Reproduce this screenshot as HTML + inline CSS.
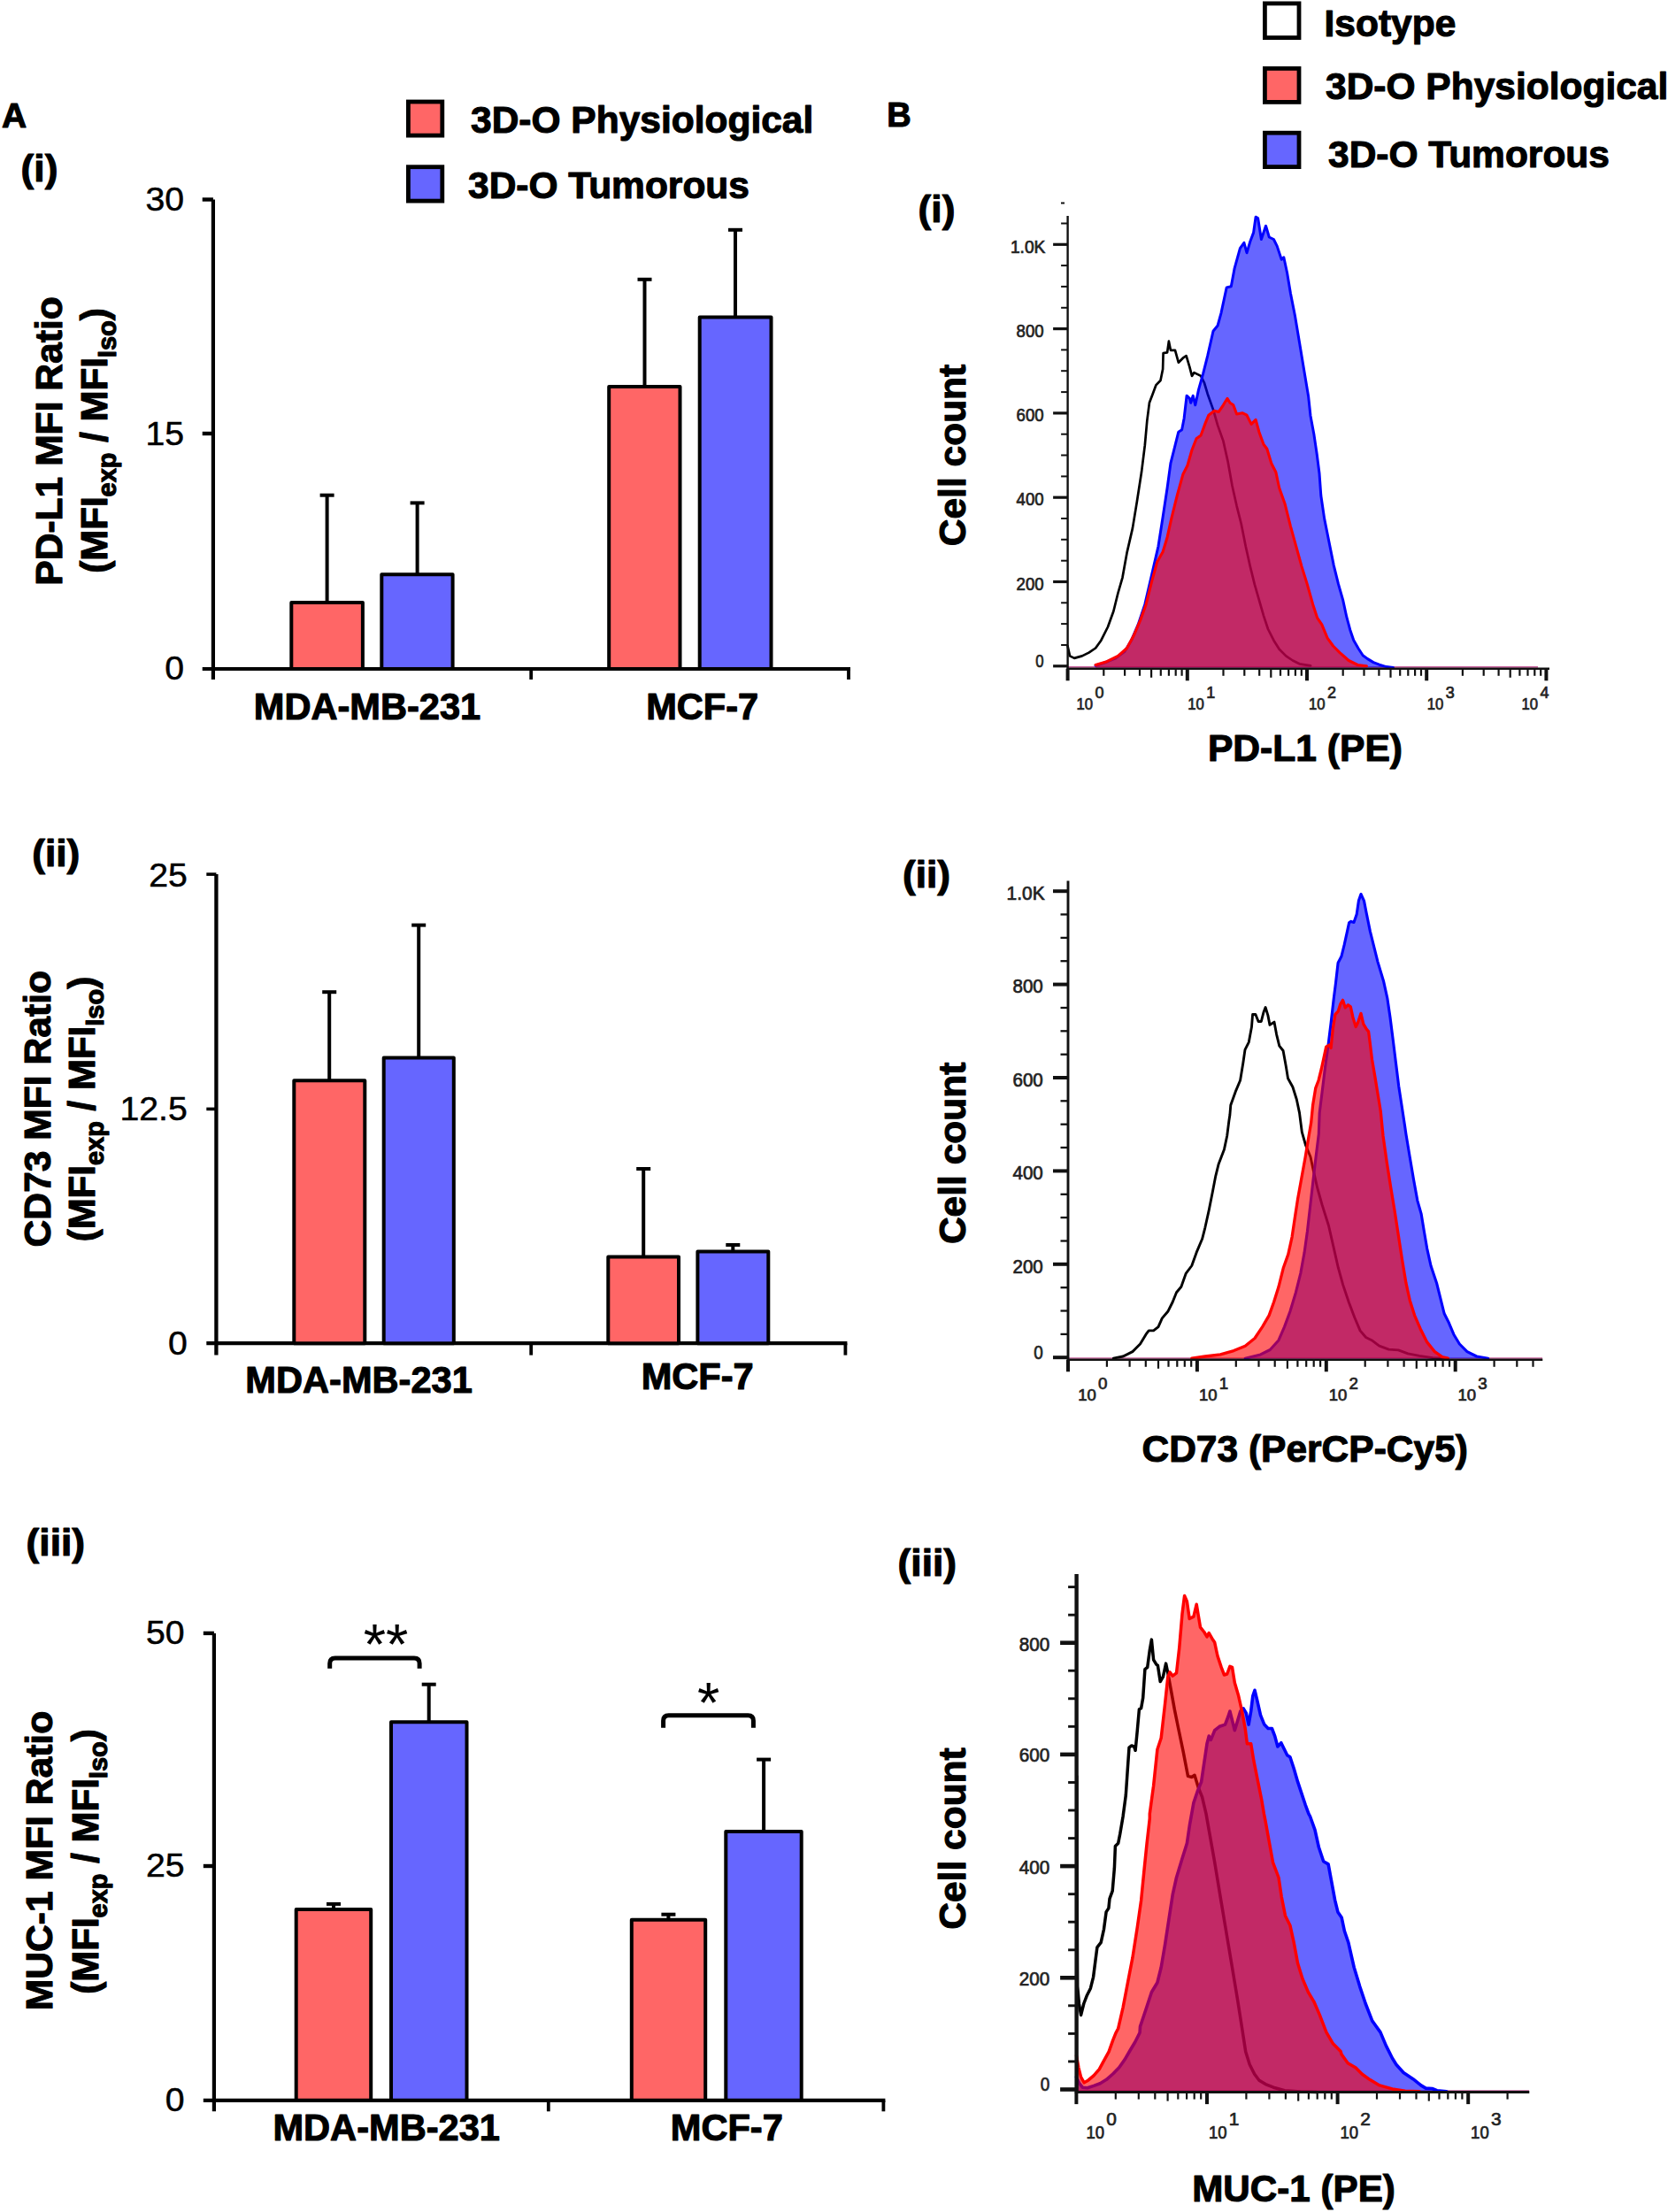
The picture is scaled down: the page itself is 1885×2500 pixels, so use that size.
<!DOCTYPE html>
<html lang="en"><head><meta charset="utf-8"><title>Figure</title>
<style>html,body{margin:0;padding:0;background:#fff}svg{display:block}text{font-family:'Liberation Sans', sans-serif}text[font-weight=bold]{stroke:#000;stroke-width:1.1px;stroke-linejoin:round}.tk{stroke:#000;stroke-width:.5px}</style>
</head><body>
<svg width="1885" height="2500" viewBox="0 0 1885 2500" role="img" aria-label="Figure: immune marker expression in 3D-O physiological versus tumorous cultures">
<rect width="1885" height="2500" fill="#fff"/>
<text x="2" y="144.4" font-size="39" font-weight="bold" text-anchor="start" fill="#000">A</text>
<text x="1002.3" y="142.8" font-size="38" font-weight="bold" text-anchor="start" fill="#000">B</text>
<text transform="translate(23.6 205) scale(1.04 1)" font-size="42.6" font-weight="bold">(i)</text>
<text transform="translate(36.2 978.5) scale(1.04 1)" font-size="42.6" font-weight="bold">(ii)</text>
<text transform="translate(29.6 1757.5) scale(1.04 1)" font-size="42.6" font-weight="bold">(iii)</text>
<text transform="translate(1037.6 251.1) scale(1.04 1)" font-size="42.6" font-weight="bold">(i)</text>
<text transform="translate(1020 1002.5) scale(1.04 1)" font-size="42.6" font-weight="bold">(ii)</text>
<text transform="translate(1014.6 1780.9) scale(1.04 1)" font-size="42.6" font-weight="bold">(iii)</text>
<rect x="461.4" y="115" width="38.4" height="38.1" fill="#FF6666" stroke="#000" stroke-width="4.8"/>
<rect x="461.4" y="188.7" width="38.4" height="38.4" fill="#6666FF" stroke="#000" stroke-width="4.8"/>
<text x="532" y="149.5" font-size="42.5" font-weight="bold" text-anchor="start" fill="#000">3D-O Physiological</text>
<text x="529" y="223.5" font-size="42.5" font-weight="bold" text-anchor="start" fill="#000">3D-O Tumorous</text>
<rect x="1429.4" y="3.9" width="38.6" height="38.7" fill="#fff" stroke="#000" stroke-width="4.8"/>
<rect x="1429.4" y="77.4" width="38.6" height="38" fill="#FF6666" stroke="#000" stroke-width="4.8"/>
<rect x="1429.4" y="150.2" width="38.6" height="38.4" fill="#6666FF" stroke="#000" stroke-width="4.8"/>
<text x="1496.5" y="41.4" font-size="42.5" font-weight="bold" text-anchor="start" fill="#000">Isotype</text>
<text x="1498" y="111.5" font-size="42.5" font-weight="bold" text-anchor="start" fill="#000">3D-O Physiological</text>
<text x="1501" y="189.4" font-size="42.5" font-weight="bold" text-anchor="start" fill="#000">3D-O Tumorous</text>
<line x1="240.9" y1="225.5" x2="240.9" y2="768" stroke="#000" stroke-width="4.2"/>
<line x1="228.7" y1="225.5" x2="240.9" y2="225.5" stroke="#000" stroke-width="4.4"/>
<line x1="228.7" y1="490" x2="240.9" y2="490" stroke="#000" stroke-width="4.4"/>
<line x1="228.7" y1="756" x2="961" y2="756" stroke="#000" stroke-width="4.2"/>
<line x1="600.2" y1="756" x2="600.2" y2="768" stroke="#000" stroke-width="3.8"/>
<line x1="959" y1="756" x2="959" y2="768" stroke="#000" stroke-width="3.8"/>
<text transform="translate(208 237.9) scale(1.06 1)" font-size="37" text-anchor="end" class="tk">30</text>
<text transform="translate(208 502.8) scale(1.06 1)" font-size="37" text-anchor="end" class="tk">15</text>
<text transform="translate(208 768.3) scale(1.06 1)" font-size="37" text-anchor="end" class="tk">0</text>
<rect x="329.3" y="681" width="80.6" height="75" fill="#FF6666" stroke="#000" stroke-width="4" stroke-linejoin="round"/>
<rect x="431.3" y="649.2" width="80.3" height="106.8" fill="#6666FF" stroke="#000" stroke-width="4" stroke-linejoin="round"/>
<rect x="688.2" y="437.1" width="80.3" height="318.9" fill="#FF6666" stroke="#000" stroke-width="4" stroke-linejoin="round"/>
<rect x="790.7" y="358.6" width="80.8" height="397.4" fill="#6666FF" stroke="#000" stroke-width="4" stroke-linejoin="round"/>
<line x1="369.6" y1="559.7" x2="369.6" y2="680" stroke="#000" stroke-width="4"/>
<line x1="361.6" y1="559.7" x2="377.6" y2="559.7" stroke="#000" stroke-width="4"/>
<line x1="471.6" y1="568.4" x2="471.6" y2="648.2" stroke="#000" stroke-width="4"/>
<line x1="463.6" y1="568.4" x2="479.6" y2="568.4" stroke="#000" stroke-width="4"/>
<line x1="728.5" y1="315.8" x2="728.5" y2="436.1" stroke="#000" stroke-width="4"/>
<line x1="720.5" y1="315.8" x2="736.5" y2="315.8" stroke="#000" stroke-width="4"/>
<line x1="831" y1="259.8" x2="831" y2="357.6" stroke="#000" stroke-width="4"/>
<line x1="823" y1="259.8" x2="839" y2="259.8" stroke="#000" stroke-width="4"/>
<text x="415" y="812.7" font-size="41.6" font-weight="bold" text-anchor="middle" fill="#000">MDA-MB-231</text>
<text x="793.7" y="812.7" font-size="41.6" font-weight="bold" text-anchor="middle" fill="#000">MCF-7</text>
<text transform="translate(69.5 498.5) rotate(-90)" font-size="42.6" font-weight="bold" text-anchor="middle">PD-L1 MFI Ratio</text>
<text transform="translate(120.5 498) rotate(-90)" font-size="42" font-weight="bold" text-anchor="middle">(MFI<tspan font-size="29" dy="10">exp</tspan><tspan dy="-10"> / MFI</tspan><tspan font-size="29" dy="10">Iso</tspan><tspan dy="-10">)</tspan></text>
<line x1="244.4" y1="988.1" x2="244.4" y2="1531.6" stroke="#000" stroke-width="4.3"/>
<line x1="233.3" y1="988.1" x2="244.4" y2="988.1" stroke="#000" stroke-width="3.6"/>
<line x1="233.3" y1="1253.4" x2="244.4" y2="1253.4" stroke="#000" stroke-width="3.6"/>
<line x1="233.3" y1="1518.2" x2="957.4" y2="1518.2" stroke="#000" stroke-width="4.3"/>
<line x1="600.2" y1="1518.2" x2="600.2" y2="1531.6" stroke="#000" stroke-width="3.8"/>
<line x1="955.4" y1="1518.2" x2="955.4" y2="1531.6" stroke="#000" stroke-width="3.8"/>
<text transform="translate(211.8 1001.6) scale(1.06 1)" font-size="37" text-anchor="end" class="tk">25</text>
<text transform="translate(211.8 1266) scale(1.06 1)" font-size="37" text-anchor="end" class="tk">12.5</text>
<text transform="translate(211.8 1530.8) scale(1.06 1)" font-size="37" text-anchor="end" class="tk">0</text>
<rect x="332.3" y="1221.2" width="80" height="297" fill="#FF6666" stroke="#000" stroke-width="4" stroke-linejoin="round"/>
<rect x="433.7" y="1195.4" width="79.1" height="322.8" fill="#6666FF" stroke="#000" stroke-width="4" stroke-linejoin="round"/>
<rect x="687.3" y="1420.5" width="79.7" height="97.7" fill="#FF6666" stroke="#000" stroke-width="4" stroke-linejoin="round"/>
<rect x="788.4" y="1414.5" width="79.9" height="103.7" fill="#6666FF" stroke="#000" stroke-width="4" stroke-linejoin="round"/>
<line x1="372.2" y1="1121.2" x2="372.2" y2="1220.2" stroke="#000" stroke-width="4"/>
<line x1="364.2" y1="1121.2" x2="380.2" y2="1121.2" stroke="#000" stroke-width="4"/>
<line x1="473.2" y1="1045.6" x2="473.2" y2="1194.4" stroke="#000" stroke-width="4"/>
<line x1="465.2" y1="1045.6" x2="481.2" y2="1045.6" stroke="#000" stroke-width="4"/>
<line x1="727.2" y1="1321" x2="727.2" y2="1419.5" stroke="#000" stroke-width="4"/>
<line x1="719.2" y1="1321" x2="735.2" y2="1321" stroke="#000" stroke-width="4"/>
<line x1="828.3" y1="1407" x2="828.3" y2="1413.5" stroke="#000" stroke-width="4"/>
<line x1="820.3" y1="1407" x2="836.3" y2="1407" stroke="#000" stroke-width="4"/>
<text x="405.6" y="1573.5" font-size="41.6" font-weight="bold" text-anchor="middle" fill="#000">MDA-MB-231</text>
<text x="788.2" y="1570.1" font-size="41.6" font-weight="bold" text-anchor="middle" fill="#000">MCF-7</text>
<text transform="translate(57 1253.2) rotate(-90)" font-size="42.6" font-weight="bold" text-anchor="middle">CD73 MFI Ratio</text>
<text transform="translate(107 1253.6) rotate(-90)" font-size="42" font-weight="bold" text-anchor="middle">(MFI<tspan font-size="29" dy="10">exp</tspan><tspan dy="-10"> / MFI</tspan><tspan font-size="29" dy="10">Iso</tspan><tspan dy="-10">)</tspan></text>
<line x1="241.9" y1="1845.9" x2="241.9" y2="2386.3" stroke="#000" stroke-width="4.2"/>
<line x1="229.8" y1="1845.9" x2="241.9" y2="1845.9" stroke="#000" stroke-width="4.4"/>
<line x1="229.8" y1="2109" x2="241.9" y2="2109" stroke="#000" stroke-width="4.4"/>
<line x1="229.8" y1="2373.8" x2="1000.4" y2="2373.8" stroke="#000" stroke-width="4.2"/>
<line x1="619.8" y1="2373.8" x2="619.8" y2="2386.3" stroke="#000" stroke-width="3.8"/>
<line x1="998.4" y1="2373.8" x2="998.4" y2="2386.3" stroke="#000" stroke-width="3.8"/>
<text transform="translate(208.5 1857.9) scale(1.06 1)" font-size="37" text-anchor="end" class="tk">50</text>
<text transform="translate(208.5 2121.2) scale(1.06 1)" font-size="37" text-anchor="end" class="tk">25</text>
<text transform="translate(208.5 2386.3) scale(1.06 1)" font-size="37" text-anchor="end" class="tk">0</text>
<rect x="334.7" y="2158" width="84.5" height="215.8" fill="#FF6666" stroke="#000" stroke-width="4" stroke-linejoin="round"/>
<rect x="442" y="1946.3" width="85.5" height="427.5" fill="#6666FF" stroke="#000" stroke-width="4" stroke-linejoin="round"/>
<rect x="713.8" y="2169.7" width="83.4" height="204.1" fill="#FF6666" stroke="#000" stroke-width="4" stroke-linejoin="round"/>
<rect x="820.3" y="2070.1" width="85.4" height="303.7" fill="#6666FF" stroke="#000" stroke-width="4" stroke-linejoin="round"/>
<line x1="377" y1="2151.9" x2="377" y2="2157" stroke="#000" stroke-width="4"/>
<line x1="369" y1="2151.9" x2="385" y2="2151.9" stroke="#000" stroke-width="4"/>
<line x1="484.7" y1="1903.7" x2="484.7" y2="1945.3" stroke="#000" stroke-width="4"/>
<line x1="476.7" y1="1903.7" x2="492.7" y2="1903.7" stroke="#000" stroke-width="4"/>
<line x1="755.4" y1="2163.7" x2="755.4" y2="2168.7" stroke="#000" stroke-width="4"/>
<line x1="747.4" y1="2163.7" x2="763.4" y2="2163.7" stroke="#000" stroke-width="4"/>
<line x1="863.1" y1="1988.6" x2="863.1" y2="2069.1" stroke="#000" stroke-width="4"/>
<line x1="855.1" y1="1988.6" x2="871.1" y2="1988.6" stroke="#000" stroke-width="4"/>
<text x="436.7" y="2419" font-size="41.6" font-weight="bold" text-anchor="middle" fill="#000">MDA-MB-231</text>
<text x="821.3" y="2418.5" font-size="41.6" font-weight="bold" text-anchor="middle" fill="#000">MCF-7</text>
<text transform="translate(59 2103) rotate(-90)" font-size="42.6" font-weight="bold" text-anchor="middle">MUC-1 MFI Ratio</text>
<text transform="translate(110.9 2104) rotate(-90)" font-size="42" font-weight="bold" text-anchor="middle">(MFI<tspan font-size="29" dy="10">exp</tspan><tspan dy="-10"> / MFI</tspan><tspan font-size="29" dy="10">Iso</tspan><tspan dy="-10">)</tspan></text>
<path d="M372.7 1885.8 V1879.9 Q372.7 1873.9 378.7 1873.9 H468.1 Q474.1 1873.9 474.1 1879.9 V1885.8" fill="none" stroke="#000" stroke-width="5"/>
<path d="M749.6 1952.7 V1944.8 Q749.6 1938.8 755.6 1938.8 H845.4 Q851.4 1938.8 851.4 1944.8 V1952.7" fill="none" stroke="#000" stroke-width="5"/>
<text x="436" y="1880.5" font-size="65" text-anchor="middle" fill="#000">**</text>
<text x="800.7" y="1946.5" font-size="65" text-anchor="middle" fill="#000">*</text>
<line x1="1207" y1="753.9" x2="1738" y2="753.9" stroke="#C8609C" stroke-width="1.6"/>
<polyline points="1206.5,730 1209,741.4 1214.1,743.9 1222.9,741.4 1230.5,737.6 1238.1,732.5 1244.4,723.7 1252,708.5 1258.4,690.8 1263.4,670.5 1268.5,652.8 1273.5,624.9 1279.9,597.1 1284.9,566.7 1290,533.8 1293.8,503.4 1296.3,475.6 1298.9,455.3 1302.7,445.2 1306.5,435.1 1311.5,430 1314.1,417.3 1314.6,399.1 1319.1,398.4 1320.9,385.7 1322.9,395.8 1328,395.8 1331.8,409.7 1336.8,404.7 1340.6,402.2 1344.4,414.8 1347,424.9 1349.5,421.1 1357.1,424.9 1360.9,432.5 1364.7,445.2 1371,462.9 1376.1,480.6 1382.4,498.4 1387.5,521.1 1392.5,549 1397.6,571.8 1402.7,592 1407.7,617.3 1412.8,640.1 1417.8,660.4 1422.9,678.1 1428,695.8 1433,711 1439.4,723.7 1445.7,733.8 1453.3,741.4 1460.9,746.5 1468.5,750.3 1481.1,752.3" fill="none" stroke="#000" stroke-width="2.7" stroke-linejoin="round" stroke-linecap="round" opacity="1"/>
<polygon points="1238.1,754.5 1238.1,752.3 1248.2,749 1260.9,743.9 1271,736.3 1278.6,723.7 1286.2,705.9 1293.8,683.2 1301.4,650.3 1309,617.3 1314.1,584.4 1319.1,551.5 1322.9,523.7 1328,503.4 1331.8,488.2 1335.6,485.7 1338.1,473 1341.1,447.2 1344.4,450.3 1345.7,455.3 1348.2,447.2 1350.8,457.8 1354.6,440.1 1359.6,422.4 1364.7,402.2 1371,374.3 1376.1,368 1379.9,354.1 1386.2,324.9 1391.3,323.7 1395.1,303.4 1401.4,280.6 1405.9,274.3 1409,285.7 1412.8,273 1416.6,262.9 1419.1,245.2 1421.6,246.5 1425.4,270.5 1430.5,255.3 1434.3,268 1439.4,270.5 1443.2,278.1 1448.2,293.3 1450.8,290.8 1454.6,308.5 1458.4,331.3 1463.4,356.6 1468.5,387 1473.5,417.3 1478.6,447.7 1481,470 1485,491.6 1488.2,513.2 1491,535 1492.8,560 1496.7,586.4 1502,612.8 1507.3,639.1 1512.5,660.2 1517.8,678.7 1521.8,697.2 1525.7,711.7 1529.7,723.5 1535,732.8 1540.2,740.7 1545.5,744.6 1552.1,748.6 1558.7,751.2 1566.6,753.6 1574.5,754.5 1574.5,754.5" fill="rgba(0,0,255,0.6)" stroke="none"/>
<polyline points="1238.1,752.3 1248.2,749 1260.9,743.9 1271,736.3 1278.6,723.7 1286.2,705.9 1293.8,683.2 1301.4,650.3 1309,617.3 1314.1,584.4 1319.1,551.5 1322.9,523.7 1328,503.4 1331.8,488.2 1335.6,485.7 1338.1,473 1341.1,447.2 1344.4,450.3 1345.7,455.3 1348.2,447.2 1350.8,457.8 1354.6,440.1 1359.6,422.4 1364.7,402.2 1371,374.3 1376.1,368 1379.9,354.1 1386.2,324.9 1391.3,323.7 1395.1,303.4 1401.4,280.6 1405.9,274.3 1409,285.7 1412.8,273 1416.6,262.9 1419.1,245.2 1421.6,246.5 1425.4,270.5 1430.5,255.3 1434.3,268 1439.4,270.5 1443.2,278.1 1448.2,293.3 1450.8,290.8 1454.6,308.5 1458.4,331.3 1463.4,356.6 1468.5,387 1473.5,417.3 1478.6,447.7 1481,470 1485,491.6 1488.2,513.2 1491,535 1492.8,560 1496.7,586.4 1502,612.8 1507.3,639.1 1512.5,660.2 1517.8,678.7 1521.8,697.2 1525.7,711.7 1529.7,723.5 1535,732.8 1540.2,740.7 1545.5,744.6 1552.1,748.6 1558.7,751.2 1566.6,753.6 1574.5,754.5" fill="none" stroke="#0000FF" stroke-width="3" stroke-linejoin="round" stroke-linecap="round"/>
<polygon points="1238.1,754.5 1238.1,751.5 1250.8,747.7 1263.4,741.4 1273.5,732.5 1281.1,718.6 1288.7,700.9 1295.1,683.2 1301.4,657.8 1307.7,635.1 1314.1,623.7 1319.1,607.2 1324.2,584.4 1330.5,559.1 1336.8,536.3 1341.9,526.2 1347,508.5 1352,495.8 1357.1,492 1362.2,478.1 1365.9,469.2 1372.3,464.2 1377.3,465.4 1382.4,457.8 1387,450.3 1390,455.3 1393.8,457.8 1397.6,468 1403.9,466.7 1409,469.2 1414.1,479.4 1419.1,474.3 1422.9,488.2 1428,502.2 1431.8,507.2 1436.8,523.7 1441.9,533.8 1445.7,551.5 1452,569.2 1458.4,594.6 1464.7,617.3 1471,640.1 1477.3,660.4 1483.7,683.2 1488.7,698.4 1493.8,705.9 1500.1,721.1 1506.5,730 1514.1,737.6 1524.2,746.5 1534.3,751.5 1544.4,752.8 1544.4,754.5" fill="rgba(255,0,0,0.6)" stroke="none"/>
<polyline points="1238.1,751.5 1250.8,747.7 1263.4,741.4 1273.5,732.5 1281.1,718.6 1288.7,700.9 1295.1,683.2 1301.4,657.8 1307.7,635.1 1314.1,623.7 1319.1,607.2 1324.2,584.4 1330.5,559.1 1336.8,536.3 1341.9,526.2 1347,508.5 1352,495.8 1357.1,492 1362.2,478.1 1365.9,469.2 1372.3,464.2 1377.3,465.4 1382.4,457.8 1387,450.3 1390,455.3 1393.8,457.8 1397.6,468 1403.9,466.7 1409,469.2 1414.1,479.4 1419.1,474.3 1422.9,488.2 1428,502.2 1431.8,507.2 1436.8,523.7 1441.9,533.8 1445.7,551.5 1452,569.2 1458.4,594.6 1464.7,617.3 1471,640.1 1477.3,660.4 1483.7,683.2 1488.7,698.4 1493.8,705.9 1500.1,721.1 1506.5,730 1514.1,737.6 1524.2,746.5 1534.3,751.5 1544.4,752.8" fill="none" stroke="#FF0000" stroke-width="3.1" stroke-linejoin="round" stroke-linecap="round"/>
<line x1="1206.6" y1="243.9" x2="1206.6" y2="756.8" stroke="#111" stroke-width="2.4"/>
<line x1="1190.1" y1="752.8" x2="1206.6" y2="752.8" stroke="#111" stroke-width="3.2"/>
<line x1="1190.1" y1="657.5" x2="1206.6" y2="657.5" stroke="#111" stroke-width="3.2"/>
<line x1="1190.1" y1="562.2" x2="1206.6" y2="562.2" stroke="#111" stroke-width="3.2"/>
<line x1="1190.1" y1="466.9" x2="1206.6" y2="466.9" stroke="#111" stroke-width="3.2"/>
<line x1="1190.1" y1="371.6" x2="1206.6" y2="371.6" stroke="#111" stroke-width="3.2"/>
<line x1="1190.1" y1="276.3" x2="1206.6" y2="276.3" stroke="#111" stroke-width="3.2"/>
<line x1="1199.1" y1="729" x2="1206.6" y2="729" stroke="#111" stroke-width="2"/>
<line x1="1199.1" y1="705.1" x2="1206.6" y2="705.1" stroke="#111" stroke-width="2"/>
<line x1="1199.1" y1="681.3" x2="1206.6" y2="681.3" stroke="#111" stroke-width="2"/>
<line x1="1199.1" y1="633.7" x2="1206.6" y2="633.7" stroke="#111" stroke-width="2"/>
<line x1="1199.1" y1="609.8" x2="1206.6" y2="609.8" stroke="#111" stroke-width="2"/>
<line x1="1199.1" y1="586" x2="1206.6" y2="586" stroke="#111" stroke-width="2"/>
<line x1="1199.1" y1="538.4" x2="1206.6" y2="538.4" stroke="#111" stroke-width="2"/>
<line x1="1199.1" y1="514.5" x2="1206.6" y2="514.5" stroke="#111" stroke-width="2"/>
<line x1="1199.1" y1="490.7" x2="1206.6" y2="490.7" stroke="#111" stroke-width="2"/>
<line x1="1199.1" y1="443.1" x2="1206.6" y2="443.1" stroke="#111" stroke-width="2"/>
<line x1="1199.1" y1="419.2" x2="1206.6" y2="419.2" stroke="#111" stroke-width="2"/>
<line x1="1199.1" y1="395.4" x2="1206.6" y2="395.4" stroke="#111" stroke-width="2"/>
<line x1="1199.1" y1="347.8" x2="1206.6" y2="347.8" stroke="#111" stroke-width="2"/>
<line x1="1199.1" y1="323.9" x2="1206.6" y2="323.9" stroke="#111" stroke-width="2"/>
<line x1="1199.1" y1="300.1" x2="1206.6" y2="300.1" stroke="#111" stroke-width="2"/>
<line x1="1199.1" y1="252.5" x2="1206.6" y2="252.5" stroke="#111" stroke-width="2"/>
<line x1="1205.6" y1="755.8" x2="1751" y2="755.8" stroke="#111" stroke-width="2.6"/>
<line x1="1206.6" y1="755.8" x2="1206.6" y2="769.3" stroke="#111" stroke-width="4"/>
<line x1="1247.3" y1="755.8" x2="1247.3" y2="763.8" stroke="#111" stroke-width="2.2"/>
<line x1="1271.1" y1="755.8" x2="1271.1" y2="763.8" stroke="#111" stroke-width="2.2"/>
<line x1="1288" y1="755.8" x2="1288" y2="763.8" stroke="#111" stroke-width="2.2"/>
<line x1="1301.1" y1="755.8" x2="1301.1" y2="765.8" stroke="#111" stroke-width="2.2"/>
<line x1="1311.8" y1="755.8" x2="1311.8" y2="763.8" stroke="#111" stroke-width="2.2"/>
<line x1="1320.9" y1="755.8" x2="1320.9" y2="763.8" stroke="#111" stroke-width="2.2"/>
<line x1="1328.7" y1="755.8" x2="1328.7" y2="763.8" stroke="#111" stroke-width="2.2"/>
<line x1="1335.6" y1="755.8" x2="1335.6" y2="763.8" stroke="#111" stroke-width="2.2"/>
<line x1="1341.8" y1="755.8" x2="1341.8" y2="769.3" stroke="#111" stroke-width="4"/>
<line x1="1382.5" y1="755.8" x2="1382.5" y2="763.8" stroke="#111" stroke-width="2.2"/>
<line x1="1406.3" y1="755.8" x2="1406.3" y2="763.8" stroke="#111" stroke-width="2.2"/>
<line x1="1423.2" y1="755.8" x2="1423.2" y2="763.8" stroke="#111" stroke-width="2.2"/>
<line x1="1436.3" y1="755.8" x2="1436.3" y2="765.8" stroke="#111" stroke-width="2.2"/>
<line x1="1447" y1="755.8" x2="1447" y2="763.8" stroke="#111" stroke-width="2.2"/>
<line x1="1456.1" y1="755.8" x2="1456.1" y2="763.8" stroke="#111" stroke-width="2.2"/>
<line x1="1463.9" y1="755.8" x2="1463.9" y2="763.8" stroke="#111" stroke-width="2.2"/>
<line x1="1470.8" y1="755.8" x2="1470.8" y2="763.8" stroke="#111" stroke-width="2.2"/>
<line x1="1477" y1="755.8" x2="1477" y2="769.3" stroke="#111" stroke-width="4"/>
<line x1="1517.7" y1="755.8" x2="1517.7" y2="763.8" stroke="#111" stroke-width="2.2"/>
<line x1="1541.5" y1="755.8" x2="1541.5" y2="763.8" stroke="#111" stroke-width="2.2"/>
<line x1="1558.4" y1="755.8" x2="1558.4" y2="763.8" stroke="#111" stroke-width="2.2"/>
<line x1="1571.5" y1="755.8" x2="1571.5" y2="765.8" stroke="#111" stroke-width="2.2"/>
<line x1="1582.2" y1="755.8" x2="1582.2" y2="763.8" stroke="#111" stroke-width="2.2"/>
<line x1="1591.3" y1="755.8" x2="1591.3" y2="763.8" stroke="#111" stroke-width="2.2"/>
<line x1="1599.1" y1="755.8" x2="1599.1" y2="763.8" stroke="#111" stroke-width="2.2"/>
<line x1="1606" y1="755.8" x2="1606" y2="763.8" stroke="#111" stroke-width="2.2"/>
<line x1="1612.2" y1="755.8" x2="1612.2" y2="769.3" stroke="#111" stroke-width="4"/>
<line x1="1652.9" y1="755.8" x2="1652.9" y2="763.8" stroke="#111" stroke-width="2.2"/>
<line x1="1676.7" y1="755.8" x2="1676.7" y2="763.8" stroke="#111" stroke-width="2.2"/>
<line x1="1693.6" y1="755.8" x2="1693.6" y2="763.8" stroke="#111" stroke-width="2.2"/>
<line x1="1706.7" y1="755.8" x2="1706.7" y2="765.8" stroke="#111" stroke-width="2.2"/>
<line x1="1717.4" y1="755.8" x2="1717.4" y2="763.8" stroke="#111" stroke-width="2.2"/>
<line x1="1726.5" y1="755.8" x2="1726.5" y2="763.8" stroke="#111" stroke-width="2.2"/>
<line x1="1734.3" y1="755.8" x2="1734.3" y2="763.8" stroke="#111" stroke-width="2.2"/>
<line x1="1741.2" y1="755.8" x2="1741.2" y2="763.8" stroke="#111" stroke-width="2.2"/>
<line x1="1747.4" y1="755.8" x2="1747.4" y2="769.3" stroke="#111" stroke-width="4"/>
<text x="1181.4" y="285.6" font-size="20" text-anchor="end" fill="#222" stroke="#222" stroke-width="0.7" textLength="39.5" lengthAdjust="spacingAndGlyphs">1.0K</text>
<text x="1179.6" y="380.5" font-size="20" text-anchor="end" fill="#222" stroke="#222" stroke-width="0.7" textLength="31" lengthAdjust="spacingAndGlyphs">800</text>
<text x="1179.6" y="475.9" font-size="20" text-anchor="end" fill="#222" stroke="#222" stroke-width="0.7" textLength="31" lengthAdjust="spacingAndGlyphs">600</text>
<text x="1179.6" y="571" font-size="20" text-anchor="end" fill="#222" stroke="#222" stroke-width="0.7" textLength="31" lengthAdjust="spacingAndGlyphs">400</text>
<text x="1179.6" y="667" font-size="20" text-anchor="end" fill="#222" stroke="#222" stroke-width="0.7" textLength="31" lengthAdjust="spacingAndGlyphs">200</text>
<text x="1179.6" y="754.1" font-size="20" text-anchor="end" fill="#222" stroke="#222" stroke-width="0.7" textLength="9.3" lengthAdjust="spacingAndGlyphs">0</text>
<text x="1216.4" y="801.6" font-size="17.5" fill="#222" stroke="#222" stroke-width="0.7" textLength="18.6" lengthAdjust="spacingAndGlyphs">10</text>
<text x="1237.4" y="789.2" font-size="18" fill="#222" stroke="#222" stroke-width="0.7">0</text>
<text x="1342.3" y="801.6" font-size="17.5" fill="#222" stroke="#222" stroke-width="0.7" textLength="18.6" lengthAdjust="spacingAndGlyphs">10</text>
<text x="1363.3" y="789.2" font-size="18" fill="#222" stroke="#222" stroke-width="0.7">1</text>
<text x="1478.9" y="801.6" font-size="17.5" fill="#222" stroke="#222" stroke-width="0.7" textLength="18.6" lengthAdjust="spacingAndGlyphs">10</text>
<text x="1499.9" y="789.2" font-size="18" fill="#222" stroke="#222" stroke-width="0.7">2</text>
<text x="1612.7" y="801.6" font-size="17.5" fill="#222" stroke="#222" stroke-width="0.7" textLength="18.6" lengthAdjust="spacingAndGlyphs">10</text>
<text x="1633.7" y="789.2" font-size="18" fill="#222" stroke="#222" stroke-width="0.7">3</text>
<text x="1719.4" y="801.6" font-size="17.5" fill="#222" stroke="#222" stroke-width="0.7" textLength="18.6" lengthAdjust="spacingAndGlyphs">10</text>
<text x="1740.4" y="789.2" font-size="18" fill="#222" stroke="#222" stroke-width="0.7">4</text>
<line x1="1199" y1="229.5" x2="1203" y2="229.5" stroke="#111" stroke-width="2"/>
<text transform="translate(1090.8 514.5) rotate(-90)" font-size="42.5" font-weight="bold" text-anchor="middle">Cell count</text>
<text x="1475" y="859.6" font-size="42.6" font-weight="bold" text-anchor="middle" fill="#000">PD-L1 (PE)</text>
<line x1="1207" y1="1535" x2="1743" y2="1535" stroke="#C8609C" stroke-width="1.6"/>
<polyline points="1258.3,1535.2 1269.1,1533 1279.9,1527.6 1288.5,1519 1295,1508.2 1298.2,1503.9 1303.6,1503.9 1309,1499.6 1313.3,1489.9 1319.8,1482.3 1325.2,1471.5 1329.5,1460.7 1334.9,1454.3 1340.3,1439.1 1346.8,1430.5 1352.2,1415.4 1358.6,1400.3 1361.9,1387.3 1366.2,1367.9 1370.5,1346.3 1373.8,1329.1 1377,1316.1 1383.5,1298.9 1386.7,1283.7 1388.9,1266.5 1389.9,1260 1390.8,1249 1396.2,1233.9 1401.6,1221 1404.8,1201.5 1407,1186.4 1411.3,1177.8 1414.5,1160.5 1415.6,1146.5 1418.9,1146.5 1422.1,1154.5 1425.3,1154.5 1427.9,1144.3 1430.1,1138.5 1432.9,1147.6 1435,1158.4 1438.3,1156.2 1440,1155.1 1442.6,1169.1 1445.8,1182.1 1450.1,1187.5 1453.4,1205.8 1455.5,1218.8 1460.9,1228.5 1465.3,1242.5 1468.5,1257.6 1471.3,1279.4 1475.6,1294.5 1481,1307.5 1484.2,1322.6 1488.6,1342 1494,1361.4 1501.5,1385.2 1506.9,1408.9 1512.3,1432.7 1517.7,1452.1 1524.2,1471.5 1530.7,1488.8 1537.1,1503.9 1543.6,1511.5 1550.1,1514.7 1558.7,1521.2 1569.5,1525.1 1580.3,1525.9 1591.1,1529.8 1604,1532.4 1619.1,1534.6 1634.3,1535.2" fill="none" stroke="#000" stroke-width="2.9" stroke-linejoin="round" stroke-linecap="round" opacity="1"/>
<polygon points="1407.2,1535.6 1407.2,1535.2 1424.5,1530.9 1435.3,1525.5 1445,1514.7 1451.5,1499.6 1457.9,1482.3 1464.4,1460.7 1469.8,1439.1 1474.1,1415.4 1477.4,1391.7 1480.6,1363.6 1483.8,1335.5 1487.1,1307.5 1490.3,1281.6 1491.2,1257.6 1494.4,1231.7 1497.6,1205.8 1500.9,1182.1 1504.1,1156.2 1507.3,1128.1 1509.5,1110.9 1512.1,1088.2 1516,1080.7 1519.2,1067.7 1522.5,1052.6 1524.6,1042.9 1526.8,1041.4 1530,1042.4 1533.2,1033.2 1535.4,1018.1 1538,1010.5 1541.5,1018.1 1544,1031 1548.4,1052.6 1552.7,1069.9 1557,1087.1 1563.5,1108.7 1567.8,1128.1 1571,1149.7 1574.3,1175.6 1577.5,1201.5 1580.7,1227.4 1584,1249 1587.2,1269.9 1588.9,1281.6 1593.2,1307.5 1597.6,1333.4 1601.9,1357.1 1606.2,1372.2 1609.4,1391.7 1612.7,1411.1 1617,1430.5 1623.5,1449.9 1627.8,1467.2 1632.1,1484.5 1637.5,1495.3 1642.9,1508.2 1649.4,1519 1658,1527.6 1668.8,1533 1681.7,1535.2 1681.7,1535.6" fill="rgba(0,0,255,0.6)" stroke="none"/>
<polyline points="1407.2,1535.2 1424.5,1530.9 1435.3,1525.5 1445,1514.7 1451.5,1499.6 1457.9,1482.3 1464.4,1460.7 1469.8,1439.1 1474.1,1415.4 1477.4,1391.7 1480.6,1363.6 1483.8,1335.5 1487.1,1307.5 1490.3,1281.6 1491.2,1257.6 1494.4,1231.7 1497.6,1205.8 1500.9,1182.1 1504.1,1156.2 1507.3,1128.1 1509.5,1110.9 1512.1,1088.2 1516,1080.7 1519.2,1067.7 1522.5,1052.6 1524.6,1042.9 1526.8,1041.4 1530,1042.4 1533.2,1033.2 1535.4,1018.1 1538,1010.5 1541.5,1018.1 1544,1031 1548.4,1052.6 1552.7,1069.9 1557,1087.1 1563.5,1108.7 1567.8,1128.1 1571,1149.7 1574.3,1175.6 1577.5,1201.5 1580.7,1227.4 1584,1249 1587.2,1269.9 1588.9,1281.6 1593.2,1307.5 1597.6,1333.4 1601.9,1357.1 1606.2,1372.2 1609.4,1391.7 1612.7,1411.1 1617,1430.5 1623.5,1449.9 1627.8,1467.2 1632.1,1484.5 1637.5,1495.3 1642.9,1508.2 1649.4,1519 1658,1527.6 1668.8,1533 1681.7,1535.2" fill="none" stroke="#0000FF" stroke-width="3.1" stroke-linejoin="round" stroke-linecap="round"/>
<polygon points="1346.8,1535.6 1346.8,1535.2 1361.9,1533 1379.1,1530.9 1394.3,1526.6 1407.2,1521.2 1418,1512.5 1426.6,1499.6 1434.2,1486.6 1439.6,1471.5 1445,1454.3 1450.4,1432.7 1455.8,1417.6 1460.1,1398.1 1463.3,1376.6 1466.6,1355 1470.9,1331.2 1475.2,1307.5 1478.4,1288.1 1481.7,1268.6 1483.6,1249 1486.8,1229.6 1490.1,1221 1493.3,1208 1496.6,1192.9 1498.7,1183.2 1502,1181 1504.1,1184.3 1506.3,1162.7 1508.9,1146.5 1512.1,1143.2 1514.9,1134.6 1517.5,1130.3 1520.3,1138.9 1523.5,1135.7 1526.3,1137.9 1528.9,1149.7 1532.2,1160.5 1534.3,1156.2 1538,1145.4 1540.8,1157.3 1544,1162.7 1546.6,1165.9 1548.4,1179.9 1550.5,1197.2 1553.8,1216.6 1557,1236.1 1560.2,1255.5 1563,1283.7 1567.3,1314 1571.7,1342 1576,1367.9 1580.3,1396 1584.6,1424 1588.9,1449.9 1593.2,1469.4 1598.6,1486.6 1605.1,1501.7 1612.7,1516.9 1621.3,1527.6 1629.9,1533.7 1636.4,1535.2 1636.4,1535.6" fill="rgba(255,0,0,0.6)" stroke="none"/>
<polyline points="1346.8,1535.2 1361.9,1533 1379.1,1530.9 1394.3,1526.6 1407.2,1521.2 1418,1512.5 1426.6,1499.6 1434.2,1486.6 1439.6,1471.5 1445,1454.3 1450.4,1432.7 1455.8,1417.6 1460.1,1398.1 1463.3,1376.6 1466.6,1355 1470.9,1331.2 1475.2,1307.5 1478.4,1288.1 1481.7,1268.6 1483.6,1249 1486.8,1229.6 1490.1,1221 1493.3,1208 1496.6,1192.9 1498.7,1183.2 1502,1181 1504.1,1184.3 1506.3,1162.7 1508.9,1146.5 1512.1,1143.2 1514.9,1134.6 1517.5,1130.3 1520.3,1138.9 1523.5,1135.7 1526.3,1137.9 1528.9,1149.7 1532.2,1160.5 1534.3,1156.2 1538,1145.4 1540.8,1157.3 1544,1162.7 1546.6,1165.9 1548.4,1179.9 1550.5,1197.2 1553.8,1216.6 1557,1236.1 1560.2,1255.5 1563,1283.7 1567.3,1314 1571.7,1342 1576,1367.9 1580.3,1396 1584.6,1424 1588.9,1449.9 1593.2,1469.4 1598.6,1486.6 1605.1,1501.7 1612.7,1516.9 1621.3,1527.6 1629.9,1533.7 1636.4,1535.2" fill="none" stroke="#FF0000" stroke-width="3.3" stroke-linejoin="round" stroke-linecap="round"/>
<line x1="1207" y1="995.6" x2="1207" y2="1537.8" stroke="#111" stroke-width="2.9"/>
<line x1="1190" y1="1534.2" x2="1207" y2="1534.2" stroke="#111" stroke-width="4"/>
<line x1="1190" y1="1428.8" x2="1207" y2="1428.8" stroke="#111" stroke-width="4"/>
<line x1="1190" y1="1323.4" x2="1207" y2="1323.4" stroke="#111" stroke-width="4"/>
<line x1="1190" y1="1218" x2="1207" y2="1218" stroke="#111" stroke-width="4"/>
<line x1="1190" y1="1112.6" x2="1207" y2="1112.6" stroke="#111" stroke-width="4"/>
<line x1="1190" y1="1007.2" x2="1207" y2="1007.2" stroke="#111" stroke-width="4"/>
<line x1="1198.5" y1="1507.9" x2="1207" y2="1507.9" stroke="#111" stroke-width="2.3"/>
<line x1="1198.5" y1="1481.5" x2="1207" y2="1481.5" stroke="#111" stroke-width="2.3"/>
<line x1="1198.5" y1="1455.2" x2="1207" y2="1455.2" stroke="#111" stroke-width="2.3"/>
<line x1="1198.5" y1="1402.5" x2="1207" y2="1402.5" stroke="#111" stroke-width="2.3"/>
<line x1="1198.5" y1="1376.1" x2="1207" y2="1376.1" stroke="#111" stroke-width="2.3"/>
<line x1="1198.5" y1="1349.8" x2="1207" y2="1349.8" stroke="#111" stroke-width="2.3"/>
<line x1="1198.5" y1="1297" x2="1207" y2="1297" stroke="#111" stroke-width="2.3"/>
<line x1="1198.5" y1="1270.7" x2="1207" y2="1270.7" stroke="#111" stroke-width="2.3"/>
<line x1="1198.5" y1="1244.3" x2="1207" y2="1244.3" stroke="#111" stroke-width="2.3"/>
<line x1="1198.5" y1="1191.7" x2="1207" y2="1191.7" stroke="#111" stroke-width="2.3"/>
<line x1="1198.5" y1="1165.3" x2="1207" y2="1165.3" stroke="#111" stroke-width="2.3"/>
<line x1="1198.5" y1="1139" x2="1207" y2="1139" stroke="#111" stroke-width="2.3"/>
<line x1="1198.5" y1="1086.2" x2="1207" y2="1086.2" stroke="#111" stroke-width="2.3"/>
<line x1="1198.5" y1="1059.9" x2="1207" y2="1059.9" stroke="#111" stroke-width="2.3"/>
<line x1="1198.5" y1="1033.5" x2="1207" y2="1033.5" stroke="#111" stroke-width="2.3"/>
<line x1="1206" y1="1536.8" x2="1743.3" y2="1536.8" stroke="#111" stroke-width="2.6"/>
<line x1="1207" y1="1536.8" x2="1207" y2="1550.3" stroke="#111" stroke-width="4"/>
<line x1="1250.9" y1="1536.8" x2="1250.9" y2="1544.8" stroke="#111" stroke-width="2.2"/>
<line x1="1276.6" y1="1536.8" x2="1276.6" y2="1544.8" stroke="#111" stroke-width="2.2"/>
<line x1="1294.8" y1="1536.8" x2="1294.8" y2="1544.8" stroke="#111" stroke-width="2.2"/>
<line x1="1309" y1="1536.8" x2="1309" y2="1546.8" stroke="#111" stroke-width="2.2"/>
<line x1="1320.5" y1="1536.8" x2="1320.5" y2="1544.8" stroke="#111" stroke-width="2.2"/>
<line x1="1330.3" y1="1536.8" x2="1330.3" y2="1544.8" stroke="#111" stroke-width="2.2"/>
<line x1="1338.8" y1="1536.8" x2="1338.8" y2="1544.8" stroke="#111" stroke-width="2.2"/>
<line x1="1346.2" y1="1536.8" x2="1346.2" y2="1544.8" stroke="#111" stroke-width="2.2"/>
<line x1="1352.9" y1="1536.8" x2="1352.9" y2="1550.3" stroke="#111" stroke-width="4"/>
<line x1="1396.8" y1="1536.8" x2="1396.8" y2="1544.8" stroke="#111" stroke-width="2.2"/>
<line x1="1422.5" y1="1536.8" x2="1422.5" y2="1544.8" stroke="#111" stroke-width="2.2"/>
<line x1="1440.7" y1="1536.8" x2="1440.7" y2="1544.8" stroke="#111" stroke-width="2.2"/>
<line x1="1454.9" y1="1536.8" x2="1454.9" y2="1546.8" stroke="#111" stroke-width="2.2"/>
<line x1="1466.4" y1="1536.8" x2="1466.4" y2="1544.8" stroke="#111" stroke-width="2.2"/>
<line x1="1476.2" y1="1536.8" x2="1476.2" y2="1544.8" stroke="#111" stroke-width="2.2"/>
<line x1="1484.7" y1="1536.8" x2="1484.7" y2="1544.8" stroke="#111" stroke-width="2.2"/>
<line x1="1492.1" y1="1536.8" x2="1492.1" y2="1544.8" stroke="#111" stroke-width="2.2"/>
<line x1="1498.8" y1="1536.8" x2="1498.8" y2="1550.3" stroke="#111" stroke-width="4"/>
<line x1="1542.7" y1="1536.8" x2="1542.7" y2="1544.8" stroke="#111" stroke-width="2.2"/>
<line x1="1568.4" y1="1536.8" x2="1568.4" y2="1544.8" stroke="#111" stroke-width="2.2"/>
<line x1="1586.6" y1="1536.8" x2="1586.6" y2="1544.8" stroke="#111" stroke-width="2.2"/>
<line x1="1600.8" y1="1536.8" x2="1600.8" y2="1546.8" stroke="#111" stroke-width="2.2"/>
<line x1="1612.3" y1="1536.8" x2="1612.3" y2="1544.8" stroke="#111" stroke-width="2.2"/>
<line x1="1622.1" y1="1536.8" x2="1622.1" y2="1544.8" stroke="#111" stroke-width="2.2"/>
<line x1="1630.6" y1="1536.8" x2="1630.6" y2="1544.8" stroke="#111" stroke-width="2.2"/>
<line x1="1638" y1="1536.8" x2="1638" y2="1544.8" stroke="#111" stroke-width="2.2"/>
<line x1="1644.7" y1="1536.8" x2="1644.7" y2="1550.3" stroke="#111" stroke-width="4"/>
<line x1="1688.6" y1="1536.8" x2="1688.6" y2="1544.8" stroke="#111" stroke-width="2.2"/>
<line x1="1714.3" y1="1536.8" x2="1714.3" y2="1544.8" stroke="#111" stroke-width="2.2"/>
<line x1="1732.5" y1="1536.8" x2="1732.5" y2="1544.8" stroke="#111" stroke-width="2.2"/>
<text x="1180.6" y="1016.6" font-size="21.6" text-anchor="end" fill="#222" stroke="#222" stroke-width="0.7" textLength="43" lengthAdjust="spacingAndGlyphs">1.0K</text>
<text x="1178.8" y="1122.1" font-size="21.6" text-anchor="end" fill="#222" stroke="#222" stroke-width="0.7" textLength="34.3" lengthAdjust="spacingAndGlyphs">800</text>
<text x="1178.8" y="1227.5" font-size="21.6" text-anchor="end" fill="#222" stroke="#222" stroke-width="0.7" textLength="34.3" lengthAdjust="spacingAndGlyphs">600</text>
<text x="1178.8" y="1333" font-size="21.6" text-anchor="end" fill="#222" stroke="#222" stroke-width="0.7" textLength="34.3" lengthAdjust="spacingAndGlyphs">400</text>
<text x="1178.8" y="1438.5" font-size="21.6" text-anchor="end" fill="#222" stroke="#222" stroke-width="0.7" textLength="34.3" lengthAdjust="spacingAndGlyphs">200</text>
<text x="1178.8" y="1535.5" font-size="21.6" text-anchor="end" fill="#222" stroke="#222" stroke-width="0.7" textLength="10.5" lengthAdjust="spacingAndGlyphs">0</text>
<text x="1218.2" y="1583" font-size="18.3" fill="#222" stroke="#222" stroke-width="0.7" textLength="20.6" lengthAdjust="spacingAndGlyphs">10</text>
<text x="1241" y="1569.8" font-size="18.8" fill="#222" stroke="#222" stroke-width="0.7">0</text>
<text x="1354.9" y="1583" font-size="18.3" fill="#222" stroke="#222" stroke-width="0.7" textLength="20.6" lengthAdjust="spacingAndGlyphs">10</text>
<text x="1377.7" y="1569.8" font-size="18.8" fill="#222" stroke="#222" stroke-width="0.7">1</text>
<text x="1501.8" y="1583" font-size="18.3" fill="#222" stroke="#222" stroke-width="0.7" textLength="20.6" lengthAdjust="spacingAndGlyphs">10</text>
<text x="1524.6" y="1569.8" font-size="18.8" fill="#222" stroke="#222" stroke-width="0.7">2</text>
<text x="1647.5" y="1583" font-size="18.3" fill="#222" stroke="#222" stroke-width="0.7" textLength="20.6" lengthAdjust="spacingAndGlyphs">10</text>
<text x="1670.3" y="1569.8" font-size="18.8" fill="#222" stroke="#222" stroke-width="0.7">3</text>
<text transform="translate(1090.8 1303.4) rotate(-90)" font-size="42.5" font-weight="bold" text-anchor="middle">Cell count</text>
<text x="1474.7" y="1651.6" font-size="42.5" font-weight="bold" text-anchor="middle" fill="#000">CD73 (PerCP-Cy5)</text>
<line x1="1217" y1="2363" x2="1728" y2="2363" stroke="#C8609C" stroke-width="1.6"/>
<polyline points="1216.8,2007.6 1217.3,2169.5 1217.7,2245.1 1219.4,2264.5 1221.6,2277.4 1224.8,2264.5 1228.1,2255.8 1232.4,2247.2 1235.6,2234.3 1237.8,2217 1239.9,2200.8 1244.2,2195.4 1247.5,2180.3 1250.1,2160.9 1252.9,2156.6 1254,2145.8 1257.2,2137.1 1259.4,2111.2 1260.4,2086.4 1263.7,2083.2 1265.8,2072.4 1269.1,2053 1272.3,2029 1274.5,1996.6 1276,1975.1 1278.8,1972.9 1281.6,1974 1283.1,1978.3 1285.3,1955.6 1287.4,1931.9 1289.6,1930.8 1291.7,1918.9 1293.9,1886.6 1296.7,1884.4 1299.3,1865 1301.4,1853.1 1303.6,1875.8 1306.8,1881.2 1308.4,1882.2 1311.2,1900.6 1314.4,1895.2 1317.6,1880.1 1319.8,1890.9 1323,1908.1 1327.3,1931.9 1331.7,1953.5 1337.1,1979.4 1342.5,2007.4 1346.8,2008.5 1350,2006.3 1354.3,2020.4 1358.6,2031.2 1363,2049.9 1366.2,2068.1 1372.7,2104.8 1379.1,2143.6 1385.6,2182.5 1392.1,2221.3 1398.6,2260.2 1404,2294.7 1407.7,2318.8 1412.2,2333.2 1417.6,2344 1423,2351.2 1430.2,2355.6 1439.2,2359.2 1451.8,2362.8 1469.8,2364.1 1487.8,2364.6" fill="none" stroke="#000" stroke-width="3.5" stroke-linejoin="round" stroke-linecap="round" opacity="1"/>
<polygon points="1216.5,2363.6 1216.5,2347.6 1219.8,2354.7 1223.4,2359.2 1228.8,2359.8 1236,2357.4 1243.2,2354.7 1250.4,2350.3 1257.6,2344 1264.7,2336.8 1271,2327.8 1277.3,2317 1282.7,2308 1288.1,2297.2 1288.5,2290.4 1295,2271 1301.4,2251.5 1307.9,2240.7 1312.2,2223.5 1316.6,2197.6 1320.9,2169.5 1325.2,2141.4 1329.5,2122 1336,2100.4 1341.4,2083.2 1344.6,2061.6 1348.9,2037.6 1353.2,2024.7 1357.6,2013.9 1360.8,1992.3 1364,1970.7 1366.2,1962.1 1368.4,1966.4 1372.7,1955.6 1378.1,1951.3 1384.5,1949.1 1387.8,1940.5 1389.9,1934 1393.2,1947 1395.3,1955.6 1398.6,1944.8 1401.8,1934 1405.1,1930.8 1408.3,1936.2 1411.1,1949.1 1413.7,1934 1415.8,1916.8 1418,1910.3 1420.6,1921.1 1424.5,1938.4 1428.8,1949.1 1433.1,1953.5 1437.4,1953.5 1440.7,1962.1 1443.9,1974 1447.8,1969.7 1451.5,1977.2 1454.7,1983.7 1457.9,1985.8 1462.2,1998.8 1466.6,2013.9 1470.9,2026.9 1475.2,2039.8 1478.9,2049.9 1480.6,2053 1486,2068.1 1490.3,2087.5 1495.7,2103.7 1501.1,2106.9 1504.3,2124.2 1508.7,2147.9 1511.9,2160.9 1516.2,2167.3 1519.4,2182.5 1523.8,2195.4 1530.2,2223.5 1536.7,2245.1 1543.2,2264.5 1550.7,2283.9 1560,2296.9 1566.3,2311.9 1573.5,2326.3 1578,2333.5 1586.1,2342.5 1596.9,2349.7 1605.9,2356.9 1611.3,2360.1 1618.5,2360.5 1623.9,2362.7 1634.7,2363.7 1634.7,2363.6" fill="rgba(0,0,255,0.6)" stroke="none"/>
<polyline points="1216.5,2347.6 1219.8,2354.7 1223.4,2359.2 1228.8,2359.8 1236,2357.4 1243.2,2354.7 1250.4,2350.3 1257.6,2344 1264.7,2336.8 1271,2327.8 1277.3,2317 1282.7,2308 1288.1,2297.2 1288.5,2290.4 1295,2271 1301.4,2251.5 1307.9,2240.7 1312.2,2223.5 1316.6,2197.6 1320.9,2169.5 1325.2,2141.4 1329.5,2122 1336,2100.4 1341.4,2083.2 1344.6,2061.6 1348.9,2037.6 1353.2,2024.7 1357.6,2013.9 1360.8,1992.3 1364,1970.7 1366.2,1962.1 1368.4,1966.4 1372.7,1955.6 1378.1,1951.3 1384.5,1949.1 1387.8,1940.5 1389.9,1934 1393.2,1947 1395.3,1955.6 1398.6,1944.8 1401.8,1934 1405.1,1930.8 1408.3,1936.2 1411.1,1949.1 1413.7,1934 1415.8,1916.8 1418,1910.3 1420.6,1921.1 1424.5,1938.4 1428.8,1949.1 1433.1,1953.5 1437.4,1953.5 1440.7,1962.1 1443.9,1974 1447.8,1969.7 1451.5,1977.2 1454.7,1983.7 1457.9,1985.8 1462.2,1998.8 1466.6,2013.9 1470.9,2026.9 1475.2,2039.8 1478.9,2049.9 1480.6,2053 1486,2068.1 1490.3,2087.5 1495.7,2103.7 1501.1,2106.9 1504.3,2124.2 1508.7,2147.9 1511.9,2160.9 1516.2,2167.3 1519.4,2182.5 1523.8,2195.4 1530.2,2223.5 1536.7,2245.1 1543.2,2264.5 1550.7,2283.9 1560,2296.9 1566.3,2311.9 1573.5,2326.3 1578,2333.5 1586.1,2342.5 1596.9,2349.7 1605.9,2356.9 1611.3,2360.1 1618.5,2360.5 1623.9,2362.7 1634.7,2363.7" fill="none" stroke="#0000FF" stroke-width="3.6" stroke-linejoin="round" stroke-linecap="round"/>
<polygon points="1216.5,2363.6 1216.5,2323.3 1218.9,2336.8 1221.6,2347.6 1225.2,2353.8 1229.7,2351.2 1236,2345.8 1242.3,2338.6 1247.7,2328.7 1253.1,2318.8 1257.6,2306.2 1261.2,2297.2 1263.7,2292.5 1269.1,2268.8 1274.5,2240.7 1279.9,2212.7 1285.3,2178.1 1289.6,2147.9 1292.8,2115.5 1296.1,2083.2 1299.3,2055.1 1299.3,2049.9 1303.6,2018.2 1307.9,1977.2 1312.2,1964.3 1316.6,1925.4 1319.8,1895.2 1322,1889.8 1325.2,1894.1 1329.5,1890.9 1332.7,1862.8 1336,1824 1338.6,1803.5 1341.4,1809.9 1344.2,1829.4 1348.9,1827.2 1352.2,1813.2 1354.3,1826.1 1356.5,1839.1 1360.8,1844.5 1364,1849.9 1366.2,1845.5 1370.5,1853.1 1372.7,1856.3 1375.9,1871.4 1380.2,1884.4 1383.5,1893 1386.7,1892 1389.9,1883.3 1392.5,1884.4 1395.3,1901.7 1399.7,1916.8 1404,1936.2 1407.2,1953.5 1409.4,1970.7 1413.7,1970.7 1416.9,1990.2 1421.2,2011.7 1425.6,2033.3 1428.4,2049.9 1429.9,2057.3 1434.2,2081 1438.5,2104.8 1445,2122 1448.2,2143.6 1452.5,2165.2 1457.9,2176 1462.2,2195.4 1466.6,2219.1 1472,2236.4 1478.4,2251.5 1484.9,2262.3 1491.4,2277.4 1498.9,2296.9 1506.5,2309.8 1515.1,2318.4 1516,2321.8 1523.2,2331.7 1532.2,2337.1 1539.4,2344.3 1548.3,2350.6 1559.1,2356.9 1573.5,2360.9 1587.9,2363.2 1604.1,2363.7 1604.1,2363.6" fill="rgba(255,0,0,0.6)" stroke="none"/>
<polyline points="1216.5,2323.3 1218.9,2336.8 1221.6,2347.6 1225.2,2353.8 1229.7,2351.2 1236,2345.8 1242.3,2338.6 1247.7,2328.7 1253.1,2318.8 1257.6,2306.2 1261.2,2297.2 1263.7,2292.5 1269.1,2268.8 1274.5,2240.7 1279.9,2212.7 1285.3,2178.1 1289.6,2147.9 1292.8,2115.5 1296.1,2083.2 1299.3,2055.1 1299.3,2049.9 1303.6,2018.2 1307.9,1977.2 1312.2,1964.3 1316.6,1925.4 1319.8,1895.2 1322,1889.8 1325.2,1894.1 1329.5,1890.9 1332.7,1862.8 1336,1824 1338.6,1803.5 1341.4,1809.9 1344.2,1829.4 1348.9,1827.2 1352.2,1813.2 1354.3,1826.1 1356.5,1839.1 1360.8,1844.5 1364,1849.9 1366.2,1845.5 1370.5,1853.1 1372.7,1856.3 1375.9,1871.4 1380.2,1884.4 1383.5,1893 1386.7,1892 1389.9,1883.3 1392.5,1884.4 1395.3,1901.7 1399.7,1916.8 1404,1936.2 1407.2,1953.5 1409.4,1970.7 1413.7,1970.7 1416.9,1990.2 1421.2,2011.7 1425.6,2033.3 1428.4,2049.9 1429.9,2057.3 1434.2,2081 1438.5,2104.8 1445,2122 1448.2,2143.6 1452.5,2165.2 1457.9,2176 1462.2,2195.4 1466.6,2219.1 1472,2236.4 1478.4,2251.5 1484.9,2262.3 1491.4,2277.4 1498.9,2296.9 1506.5,2309.8 1515.1,2318.4 1516,2321.8 1523.2,2331.7 1532.2,2337.1 1539.4,2344.3 1548.3,2350.6 1559.1,2356.9 1573.5,2360.9 1587.9,2363.2 1604.1,2363.7" fill="none" stroke="#FF0000" stroke-width="3.5" stroke-linejoin="round" stroke-linecap="round"/>
<line x1="1216.6" y1="1779.1" x2="1216.6" y2="2365.6" stroke="#111" stroke-width="4.4"/>
<line x1="1198.1" y1="2361.5" x2="1216.6" y2="2361.5" stroke="#111" stroke-width="4.6"/>
<line x1="1198.1" y1="2235.3" x2="1216.6" y2="2235.3" stroke="#111" stroke-width="4.6"/>
<line x1="1198.1" y1="2109.1" x2="1216.6" y2="2109.1" stroke="#111" stroke-width="4.6"/>
<line x1="1198.1" y1="1982.9" x2="1216.6" y2="1982.9" stroke="#111" stroke-width="4.6"/>
<line x1="1198.1" y1="1856.7" x2="1216.6" y2="1856.7" stroke="#111" stroke-width="4.6"/>
<line x1="1207.1" y1="2329.9" x2="1216.6" y2="2329.9" stroke="#111" stroke-width="2.9"/>
<line x1="1207.1" y1="2298.4" x2="1216.6" y2="2298.4" stroke="#111" stroke-width="2.9"/>
<line x1="1207.1" y1="2266.8" x2="1216.6" y2="2266.8" stroke="#111" stroke-width="2.9"/>
<line x1="1207.1" y1="2203.8" x2="1216.6" y2="2203.8" stroke="#111" stroke-width="2.9"/>
<line x1="1207.1" y1="2172.2" x2="1216.6" y2="2172.2" stroke="#111" stroke-width="2.9"/>
<line x1="1207.1" y1="2140.7" x2="1216.6" y2="2140.7" stroke="#111" stroke-width="2.9"/>
<line x1="1207.1" y1="2077.6" x2="1216.6" y2="2077.6" stroke="#111" stroke-width="2.9"/>
<line x1="1207.1" y1="2046" x2="1216.6" y2="2046" stroke="#111" stroke-width="2.9"/>
<line x1="1207.1" y1="2014.5" x2="1216.6" y2="2014.5" stroke="#111" stroke-width="2.9"/>
<line x1="1207.1" y1="1951.3" x2="1216.6" y2="1951.3" stroke="#111" stroke-width="2.9"/>
<line x1="1207.1" y1="1919.8" x2="1216.6" y2="1919.8" stroke="#111" stroke-width="2.9"/>
<line x1="1207.1" y1="1888.2" x2="1216.6" y2="1888.2" stroke="#111" stroke-width="2.9"/>
<line x1="1207.1" y1="1825.2" x2="1216.6" y2="1825.2" stroke="#111" stroke-width="2.9"/>
<line x1="1207.1" y1="1793.6" x2="1216.6" y2="1793.6" stroke="#111" stroke-width="2.9"/>
<line x1="1215.6" y1="2364.6" x2="1728.3" y2="2364.6" stroke="#111" stroke-width="3"/>
<line x1="1216.4" y1="2364.6" x2="1216.4" y2="2378.1" stroke="#111" stroke-width="4"/>
<line x1="1260.8" y1="2364.6" x2="1260.8" y2="2372.6" stroke="#111" stroke-width="2.2"/>
<line x1="1286.8" y1="2364.6" x2="1286.8" y2="2372.6" stroke="#111" stroke-width="2.2"/>
<line x1="1305.3" y1="2364.6" x2="1305.3" y2="2372.6" stroke="#111" stroke-width="2.2"/>
<line x1="1319.6" y1="2364.6" x2="1319.6" y2="2374.6" stroke="#111" stroke-width="2.2"/>
<line x1="1331.3" y1="2364.6" x2="1331.3" y2="2372.6" stroke="#111" stroke-width="2.2"/>
<line x1="1341.1" y1="2364.6" x2="1341.1" y2="2372.6" stroke="#111" stroke-width="2.2"/>
<line x1="1349.7" y1="2364.6" x2="1349.7" y2="2372.6" stroke="#111" stroke-width="2.2"/>
<line x1="1357.2" y1="2364.6" x2="1357.2" y2="2372.6" stroke="#111" stroke-width="2.2"/>
<line x1="1364" y1="2364.6" x2="1364" y2="2378.1" stroke="#111" stroke-width="4"/>
<line x1="1408.4" y1="2364.6" x2="1408.4" y2="2372.6" stroke="#111" stroke-width="2.2"/>
<line x1="1434.4" y1="2364.6" x2="1434.4" y2="2372.6" stroke="#111" stroke-width="2.2"/>
<line x1="1452.9" y1="2364.6" x2="1452.9" y2="2372.6" stroke="#111" stroke-width="2.2"/>
<line x1="1467.2" y1="2364.6" x2="1467.2" y2="2374.6" stroke="#111" stroke-width="2.2"/>
<line x1="1478.9" y1="2364.6" x2="1478.9" y2="2372.6" stroke="#111" stroke-width="2.2"/>
<line x1="1488.7" y1="2364.6" x2="1488.7" y2="2372.6" stroke="#111" stroke-width="2.2"/>
<line x1="1497.3" y1="2364.6" x2="1497.3" y2="2372.6" stroke="#111" stroke-width="2.2"/>
<line x1="1504.8" y1="2364.6" x2="1504.8" y2="2372.6" stroke="#111" stroke-width="2.2"/>
<line x1="1511.6" y1="2364.6" x2="1511.6" y2="2378.1" stroke="#111" stroke-width="4"/>
<line x1="1556" y1="2364.6" x2="1556" y2="2372.6" stroke="#111" stroke-width="2.2"/>
<line x1="1582" y1="2364.6" x2="1582" y2="2372.6" stroke="#111" stroke-width="2.2"/>
<line x1="1600.5" y1="2364.6" x2="1600.5" y2="2372.6" stroke="#111" stroke-width="2.2"/>
<line x1="1614.8" y1="2364.6" x2="1614.8" y2="2374.6" stroke="#111" stroke-width="2.2"/>
<line x1="1626.5" y1="2364.6" x2="1626.5" y2="2372.6" stroke="#111" stroke-width="2.2"/>
<line x1="1636.3" y1="2364.6" x2="1636.3" y2="2372.6" stroke="#111" stroke-width="2.2"/>
<line x1="1644.9" y1="2364.6" x2="1644.9" y2="2372.6" stroke="#111" stroke-width="2.2"/>
<line x1="1652.4" y1="2364.6" x2="1652.4" y2="2372.6" stroke="#111" stroke-width="2.2"/>
<line x1="1659.2" y1="2364.6" x2="1659.2" y2="2378.1" stroke="#111" stroke-width="4"/>
<line x1="1703.6" y1="2364.6" x2="1703.6" y2="2372.6" stroke="#111" stroke-width="2.2"/>
<text x="1186.3" y="1865.5" font-size="21.8" text-anchor="end" fill="#222" stroke="#222" stroke-width="0.7" textLength="34.5" lengthAdjust="spacingAndGlyphs">800</text>
<text x="1186.3" y="1990.5" font-size="21.8" text-anchor="end" fill="#222" stroke="#222" stroke-width="0.7" textLength="34.5" lengthAdjust="spacingAndGlyphs">600</text>
<text x="1186.3" y="2117.5" font-size="21.8" text-anchor="end" fill="#222" stroke="#222" stroke-width="0.7" textLength="34.5" lengthAdjust="spacingAndGlyphs">400</text>
<text x="1186.3" y="2244" font-size="21.8" text-anchor="end" fill="#222" stroke="#222" stroke-width="0.7" textLength="34.5" lengthAdjust="spacingAndGlyphs">200</text>
<text x="1186.3" y="2363" font-size="21.8" text-anchor="end" fill="#222" stroke="#222" stroke-width="0.7" textLength="10.5" lengthAdjust="spacingAndGlyphs">0</text>
<text x="1227.4" y="2416.8" font-size="20.3" fill="#222" stroke="#222" stroke-width="0.7" textLength="20.6" lengthAdjust="spacingAndGlyphs">10</text>
<text x="1250.2" y="2402.2" font-size="20.9" fill="#222" stroke="#222" stroke-width="0.7">0</text>
<text x="1365.9" y="2416.8" font-size="20.3" fill="#222" stroke="#222" stroke-width="0.7" textLength="20.6" lengthAdjust="spacingAndGlyphs">10</text>
<text x="1388.7" y="2402.2" font-size="20.9" fill="#222" stroke="#222" stroke-width="0.7">1</text>
<text x="1514.5" y="2416.8" font-size="20.3" fill="#222" stroke="#222" stroke-width="0.7" textLength="20.6" lengthAdjust="spacingAndGlyphs">10</text>
<text x="1537.3" y="2402.2" font-size="20.9" fill="#222" stroke="#222" stroke-width="0.7">2</text>
<text x="1662.1" y="2416.8" font-size="20.3" fill="#222" stroke="#222" stroke-width="0.7" textLength="20.6" lengthAdjust="spacingAndGlyphs">10</text>
<text x="1684.9" y="2402.2" font-size="20.9" fill="#222" stroke="#222" stroke-width="0.7">3</text>
<text transform="translate(1090.8 2078) rotate(-90)" font-size="42.5" font-weight="bold" text-anchor="middle">Cell count</text>
<text x="1462" y="2487.8" font-size="42.2" font-weight="bold" text-anchor="middle" fill="#000">MUC-1 (PE)</text>
</svg>
</body></html>
